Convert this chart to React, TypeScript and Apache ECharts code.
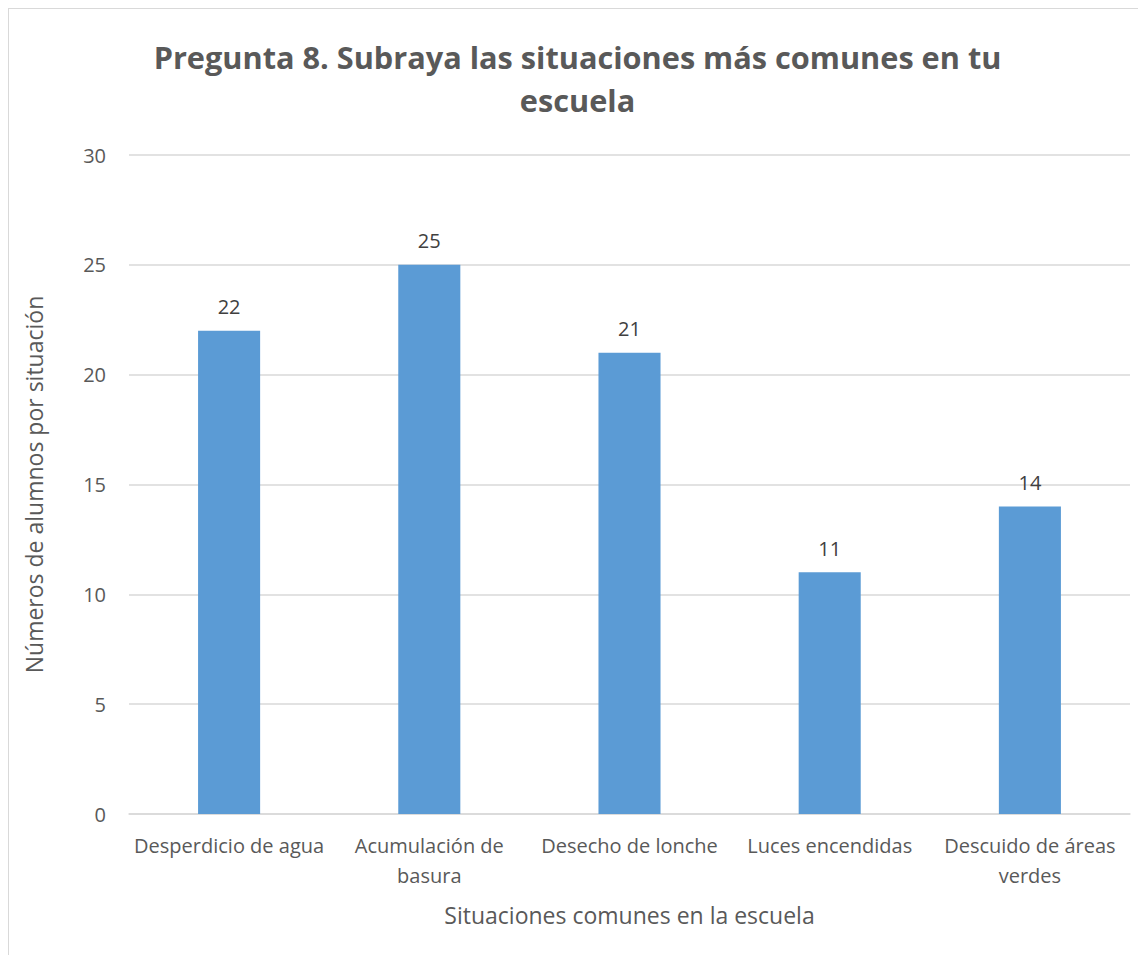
import React, { useEffect, useRef } from "react";
import * as echarts from "echarts";

const categories = [
  "Desperdicio de agua",
  "Acumulación de\nbasura",
  "Desecho de lonche",
  "Luces encendidas",
  "Descuido de áreas\nverdes",
];
const values = [22, 25, 21, 11, 14];
const titleText = "Pregunta 8. Subraya las situaciones más comunes en tu\nescuela";
const xName = "Situaciones comunes en la escuela";
const yName = "Números de alumnos por situación";

const FONT = "'Open Sans', 'Liberation Sans', sans-serif";

export default function App() {
  const ref = useRef<HTMLDivElement>(null);
  useEffect(() => {
    if (!ref.current) return;
    const chart = echarts.init(ref.current, undefined, { renderer: "svg" });
    chart.setOption({
      animation: false,
      backgroundColor: "#ffffff",
      title: {
        text: titleText,
        left: "center",
        top: 21,
        textStyle: {
          fontFamily: FONT,
          fontSize: 30.7,
          fontWeight: "bold",
          color: "#595959",
          lineHeight: 43,
        },
      },
      grid: { left: 120, right: 16, top: 146, bottom: 141 },
      xAxis: {
        type: "category",
        data: categories,
        name: xName,
        nameLocation: "middle",
        nameGap: 89,
        nameTextStyle: { fontFamily: FONT, fontSize: 23, color: "#595959" },
        axisLine: { lineStyle: { color: "#d9d9d9", width: 1.5 } },
        axisTick: { show: false },
        axisLabel: {
          fontFamily: FONT,
          fontSize: 20,
          color: "#595959",
          margin: 16,
          lineHeight: 30,
          interval: 0,
        },
      },
      yAxis: {
        type: "value",
        min: 0,
        max: 30,
        interval: 5,
        name: yName,
        nameLocation: "middle",
        nameGap: 84,
        nameTextStyle: { fontFamily: FONT, fontSize: 23, color: "#595959" },
        axisLine: { show: false },
        axisTick: { show: false },
        axisLabel: { fontFamily: FONT, fontSize: 20, color: "#595959", margin: 23 },
        splitLine: { lineStyle: { color: "#d9d9d9", width: 1.5 } },
      },
      series: [
        {
          type: "bar",
          data: values,
          barWidth: "31%",
          itemStyle: { color: "#5b9bd5" },
          label: {
            show: true,
            position: "top",
            distance: 14,
            fontFamily: FONT,
            fontSize: 20,
            color: "#404040",
          },
        },
      ],
    });
    return () => chart.dispose();
  }, []);
  return (
    <div
      ref={ref}
      style={{
        width: 1138,
        height: 947,
        boxSizing: "border-box",
        borderLeft: "1px solid #d9d9d9",
        borderTop: "1px solid #d9d9d9",
      }}
    />
  );
}
